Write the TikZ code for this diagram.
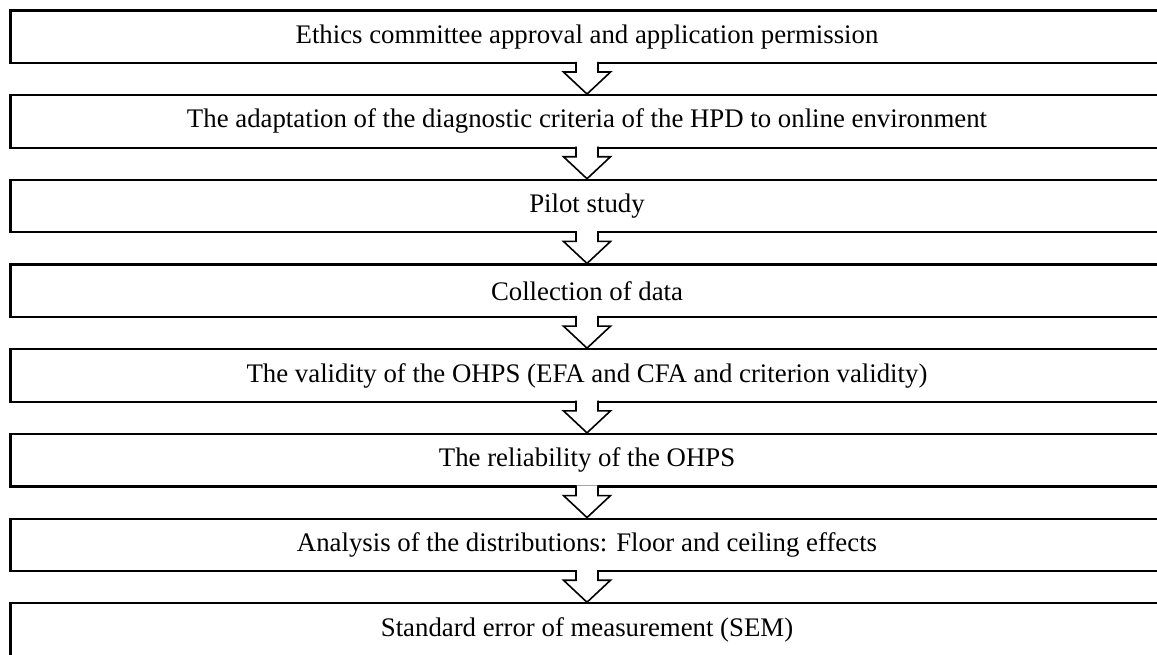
\documentclass[tikz,border=0pt]{standalone}
\usepackage{fontspec}
\setmainfont{Liberation Serif}
\usetikzlibrary{positioning}
\usetikzlibrary{calc}
\newcommand{\flowarrow}[2]{%
  \draw[flow] ($(#1.south)+(-11,2.2)$) -- ++(0,-10.2) -- ++(-12.5,0)
    -- (#2.north) -- ($(#1.south)+(23.5,-8)$) -- ++(-12.5,0) -- ++(0,10.2);
}

\begin{document}
\begin{tikzpicture}[x=1pt, y=1pt, stage/.style = {draw, line width=2.2pt, minimum width=1153pt, minimum height=52.5pt, inner sep=0pt, font=\fontsize{26.8}{30}\selectfont}, flow/.style = {draw, fill=white, line width=1.6pt, line join=miter}, node distance=30pt]
					\useasboundingbox (0,0) rectangle (1157,-655);
					\node[stage] (ethics) at (587,-36.7) {Ethics committee approval and application permission};
					\node[stage, below=of ethics] (adapt) {The adaptation of the diagnostic criteria of the HPD to online environment};
					\node[stage, below=of adapt] (pilot) {Pilot study};
					\node[stage, below=of pilot] (collect) {Collection of data};
					\node[stage, below=of collect] (valid) {The validity of the OHPS (EFA and CFA and criterion validity)};
					\node[stage, below=of valid] (reliab) {The reliability of the OHPS};
					\node[stage, below=of reliab] (distrib) {Analysis of the distributions: Floor and ceiling effects};
					\node[stage, below=of distrib] (sem) {Standard error of measurement (SEM)};

					\flowarrow{ethics}{adapt}
					\flowarrow{adapt}{pilot}
					\flowarrow{pilot}{collect}
					\flowarrow{collect}{valid}
					\flowarrow{valid}{reliab}
					\flowarrow{reliab}{distrib}
					\flowarrow{distrib}{sem}
				\end{tikzpicture}
\end{document}
